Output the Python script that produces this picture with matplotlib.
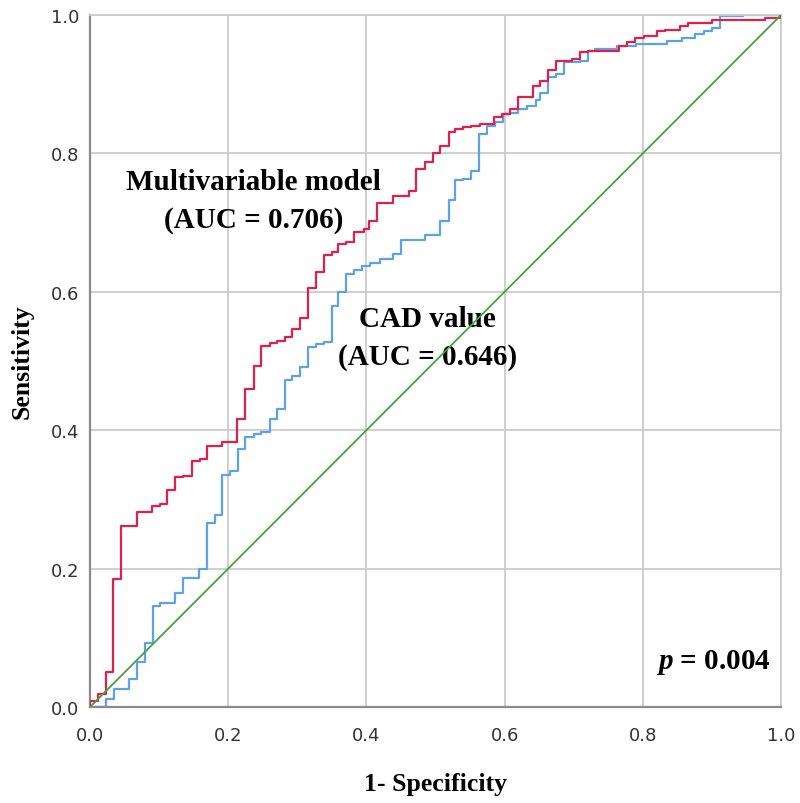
import matplotlib
matplotlib.use('Agg')
import matplotlib.pyplot as plt

# ROC step curves: x = left end of each horizontal run, y = sensitivity level on that run
multi_fpr = [0.000, 0.000, 0.012, 0.023, 0.034, 0.045, 0.068, 0.089, 0.101, 0.111,
             0.123, 0.135, 0.147, 0.159, 0.169, 0.191, 0.213, 0.224, 0.237, 0.248,
             0.260, 0.270, 0.282, 0.293, 0.304, 0.315, 0.327, 0.338, 0.350, 0.359,
             0.371, 0.382, 0.396, 0.404, 0.416, 0.439, 0.461, 0.472, 0.485, 0.496,
             0.507, 0.519, 0.528, 0.540, 0.552, 0.564, 0.584, 0.596, 0.608, 0.620,
             0.641, 0.651, 0.663, 0.675, 0.697, 0.709, 0.721, 0.765, 0.777, 0.789,
             0.801, 0.820, 0.832, 0.854, 0.866, 0.900, 0.977, 0.999, 1.000]
multi_tpr = [0.000, 0.009, 0.019, 0.051, 0.185, 0.262, 0.282, 0.290, 0.293, 0.314,
             0.332, 0.334, 0.356, 0.358, 0.377, 0.383, 0.416, 0.459, 0.493, 0.522,
             0.526, 0.529, 0.534, 0.546, 0.562, 0.606, 0.628, 0.653, 0.657, 0.669,
             0.672, 0.686, 0.691, 0.703, 0.729, 0.739, 0.746, 0.777, 0.788, 0.801,
             0.811, 0.831, 0.835, 0.838, 0.840, 0.842, 0.852, 0.857, 0.864, 0.881,
             0.898, 0.905, 0.920, 0.933, 0.936, 0.946, 0.948, 0.955, 0.961, 0.967,
             0.969, 0.977, 0.979, 0.984, 0.988, 0.993, 0.996, 1.000, 1.000]

cad_fpr = [0.000, 0.023, 0.035, 0.057, 0.068, 0.080, 0.091, 0.102, 0.123, 0.135,
           0.158, 0.170, 0.181, 0.191, 0.203, 0.214, 0.224, 0.237, 0.248, 0.260,
           0.270, 0.282, 0.293, 0.304, 0.316, 0.327, 0.338, 0.350, 0.359, 0.371,
           0.382, 0.393, 0.405, 0.420, 0.439, 0.450, 0.485, 0.507, 0.519, 0.528,
           0.540, 0.551, 0.563, 0.574, 0.586, 0.598, 0.608, 0.620, 0.632, 0.645,
           0.651, 0.663, 0.675, 0.686, 0.709, 0.721, 0.731, 0.762, 0.790, 0.835,
           0.856, 0.876, 0.888, 0.900, 0.911, 0.945, 1.000]
cad_tpr = [0.000, 0.012, 0.026, 0.041, 0.065, 0.093, 0.146, 0.150, 0.165, 0.187,
           0.199, 0.266, 0.278, 0.335, 0.341, 0.373, 0.390, 0.394, 0.398, 0.416,
           0.430, 0.472, 0.478, 0.491, 0.520, 0.525, 0.527, 0.580, 0.599, 0.626,
           0.631, 0.638, 0.642, 0.647, 0.655, 0.675, 0.682, 0.703, 0.733, 0.761,
           0.763, 0.775, 0.828, 0.840, 0.845, 0.857, 0.859, 0.864, 0.869, 0.877,
           0.888, 0.910, 0.915, 0.932, 0.934, 0.948, 0.951, 0.955, 0.958, 0.963,
           0.967, 0.973, 0.977, 0.981, 0.998, 1.000, 1.000]

ref_line = [0.0, 1.0]
ticks = [0.0, 0.2, 0.4, 0.6, 0.8, 1.0]
tick_labels = ['0.0', '0.2', '0.4', '0.6', '0.8', '1.0']

plt.rcParams['mathtext.fontset'] = 'custom'
plt.rcParams['mathtext.it'] = 'Liberation Serif:italic:bold'
plt.rcParams['mathtext.rm'] = 'Liberation Serif:bold'

fig = plt.figure(figsize=(8, 8.04), dpi=100)
ax = fig.add_axes([0.1125, 0.1194, 0.8638, 0.8607])

ax.plot(multi_fpr, multi_tpr, drawstyle='steps-post', color='#E0204A', lw=1.6, zorder=3)
ax.plot(cad_fpr, cad_tpr, drawstyle='steps-post', color='#5CA2EA', lw=1.6, zorder=2)
ax.plot(ref_line, ref_line, color='#45A045', lw=1.3, zorder=4)

ax.set_xlim(0, 1)
ax.set_ylim(0, 1)
ax.set_xticks(ticks)
ax.set_yticks(ticks)
ax.set_xticklabels(tick_labels)
ax.set_yticklabels(tick_labels)
ax.tick_params(axis='both', length=0, labelsize=13, colors='#333333')
ax.tick_params(axis='x', pad=14)
ax.tick_params(axis='y', pad=8)
ax.grid(True, color='#CCCCCC', lw=1.3)
ax.set_axisbelow(True)
for s in ('left', 'bottom'):
    ax.spines[s].set_color('#8A8A8A')
    ax.spines[s].set_linewidth(1.6)
for s in ('top', 'right'):
    ax.spines[s].set_color('#CCCCCC')
    ax.spines[s].set_linewidth(1.3)

serif = 'Liberation Serif'
ax.set_xlabel('1- Specificity', family=serif, fontweight='bold', fontsize=18.5, labelpad=20)
ax.set_ylabel('Sensitivity', family=serif, fontweight='bold', fontsize=18.5, labelpad=12)

ax.text(0.237, 0.759, 'Multivariable model', family=serif, fontweight='bold',
        fontsize=21, ha='center', va='center')
ax.text(0.237, 0.705, '(AUC = 0.706)', family=serif, fontweight='bold',
        fontsize=21, ha='center', va='center')
ax.text(0.488, 0.561, 'CAD value', family=serif, fontweight='bold',
        fontsize=21, ha='center', va='center')
ax.text(0.488, 0.507, '(AUC = 0.646)', family=serif, fontweight='bold',
        fontsize=21, ha='center', va='center')
ax.text(0.985, 0.066, r'$p$ = 0.004', family=serif, fontweight='bold',
        fontsize=21, ha='right', va='center')

fig.savefig('out.png', dpi=100)
